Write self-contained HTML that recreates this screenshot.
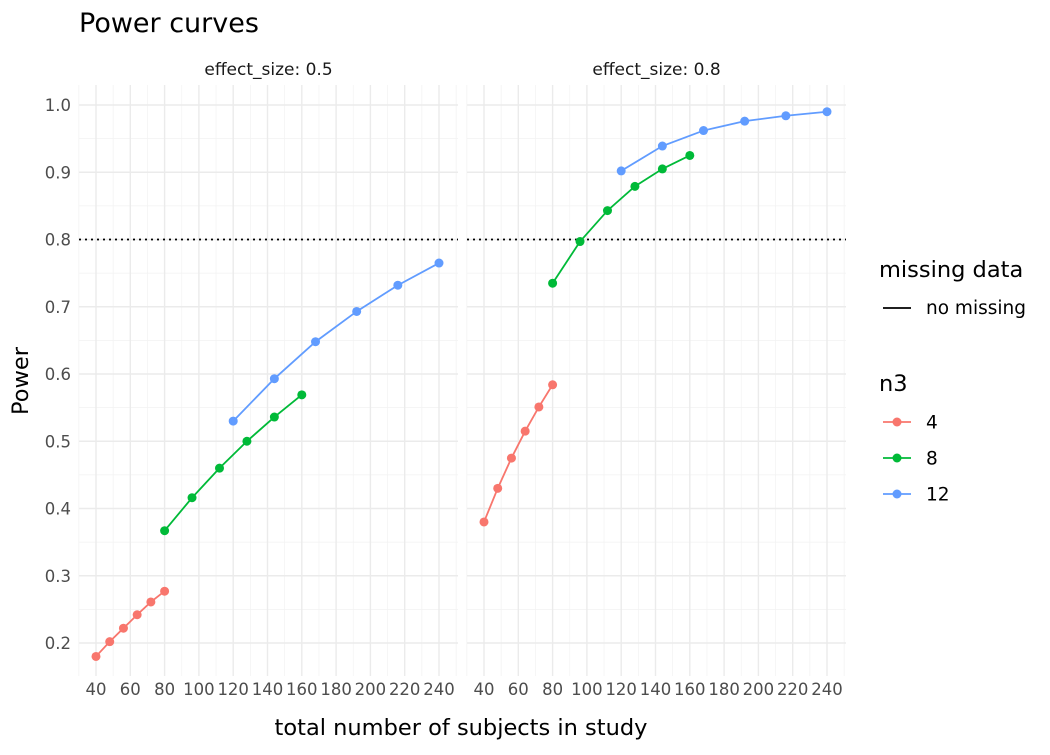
<!DOCTYPE html>
<html><head><meta charset="utf-8">
<style>
body{margin:0;background:#fff;}
svg text{font-family:"DejaVu Sans","Liberation Sans",sans-serif;}
</style></head>
<body>
<svg id="chart" width="1050" height="750" xmlns="http://www.w3.org/2000/svg">
<rect width="1050" height="750" fill="#fff"/>
<text x="79" y="32" font-size="27" fill="#000">Power curves</text>
<g id="plot"></g>
<text x="461" y="735" font-size="22.5" text-anchor="middle" fill="#000">total number of subjects in study</text>
<text transform="translate(28,381) rotate(-90)" font-size="22.5" text-anchor="middle" fill="#000">Power</text>
<g>
<text x="879" y="277" font-size="22.5">missing data</text>
<line x1="883" y1="308" x2="911" y2="308" stroke="#000" stroke-width="1.8"/>
<text x="926" y="314" font-size="18.5">no missing</text>
<text x="879" y="391" font-size="22.5">n3</text>
<g id="legn3"></g>
</g>
</svg>
<script>
const xValues4 = [40,48,56,64,72,80];
const xValues8 = [80,96,112,128,144,160];
const xValues12 = [120,144,168,192,216,240];
const panels = ["effect_size: 0.5","effect_size: 0.8"];
const power05_n4 = [0.180,0.202,0.222,0.242,0.261,0.277];
const power05_n8 = [0.367,0.416,0.460,0.500,0.536,0.569];
const power05_n12 = [0.530,0.593,0.648,0.693,0.732,0.765];
const power08_n4 = [0.380,0.430,0.475,0.515,0.551,0.584];
const power08_n8 = [0.735,0.797,0.843,0.879,0.905,0.925];
const power08_n12 = [0.902,0.939,0.962,0.976,0.984,0.990];
const n3Labels = ["4","8","12"];
const xTicks = [40,60,80,100,120,140,160,180,200,220,240];
const yTicks = [0.2,0.3,0.4,0.5,0.6,0.7,0.8,0.9,1.0];
const yMinor = [0.25,0.35,0.45,0.55,0.65,0.75,0.85,0.95];
const threshold = 0.8;

const NS="http://www.w3.org/2000/svg";
const colors=["#F8766D","#00BA38","#619CFF"];
const panelLeft=[79,467], panelW=379, plotTop=85, plotBottom=676;
function xs(p,v){return panelLeft[p]+17+(v-40)*1.715;}
function ys(v){return 643-(v-0.2)*672.5;}
function el(tag,attrs,parent){const e=document.createElementNS(NS,tag);for(const k in attrs)e.setAttribute(k,attrs[k]);parent.appendChild(e);return e;}
const plot=document.getElementById('plot');
const series=[[power05_n4,power05_n8,power05_n12],[power08_n4,power08_n8,power08_n12]];
const xsets=[xValues4,xValues8,xValues12];
for(let p=0;p<2;p++){
  const L=panelLeft[p];
  const g=el('g',{},plot);
  
  
  for(let v=30;v<=250;v+=20){el('line',{x1:xs(p,v),x2:xs(p,v),y1:plotTop,y2:plotBottom,stroke:'#f2f2f2','stroke-width':0.7},g);}
  yMinor.forEach(v=>{el('line',{x1:L,x2:L+panelW,y1:ys(v),y2:ys(v),stroke:'#f2f2f2','stroke-width':0.7},g);});
  xTicks.forEach(v=>{el('line',{x1:xs(p,v),x2:xs(p,v),y1:plotTop,y2:plotBottom,stroke:'#ebebeb','stroke-width':1.4},g);
    const t=el('text',{x:xs(p,v),y:695,'font-size':16.5,'text-anchor':'middle',fill:'#4d4d4d'},g);t.textContent=v;
    });
  yTicks.forEach(v=>{el('line',{x1:L,x2:L+panelW,y1:ys(v),y2:ys(v),stroke:'#ebebeb','stroke-width':1.4},g);
    if(p===0){const t=el('text',{x:71,y:ys(v)+6,'font-size':16.5,'text-anchor':'end',fill:'#4d4d4d'},g);t.textContent=v.toFixed(1);
    }});
  const st=el('text',{x:L+panelW/2,y:75,'font-size':17,'text-anchor':'middle',fill:'#1a1a1a'},g);st.textContent=panels[p];
  
  const th=el('line',{x1:L,x2:L+panelW,y1:ys(threshold),y2:ys(threshold),stroke:'#000','stroke-width':1.8,'stroke-dasharray':'2,4'},g);
  
  for(let s=0;s<3;s++){
    const xv=xsets[s],yv=series[p][s];
    const pts=xv.map((x,i)=>xs(p,x)+','+ys(yv[i])).join(' ');
    const pl=el('polyline',{points:pts,fill:'none',stroke:colors[s],'stroke-width':1.8},g);
    
    xv.forEach((x,i)=>{const c=el('circle',{cx:xs(p,x),cy:ys(yv[i]),r:4.5,fill:colors[s]},g);
      });
  }
}
const lg=document.getElementById('legn3');
n3Labels.forEach((lab,i)=>{const y=422+i*36;
  el('line',{x1:883,x2:911,y1:y,y2:y,stroke:colors[i],'stroke-width':1.8},lg);
  el('circle',{cx:897,cy:y,r:4.5,fill:colors[i]},lg);
  const t=el('text',{x:926,y:y+6.5,'font-size':18.5},lg);t.textContent=lab;
  });
</script>
</body></html>
